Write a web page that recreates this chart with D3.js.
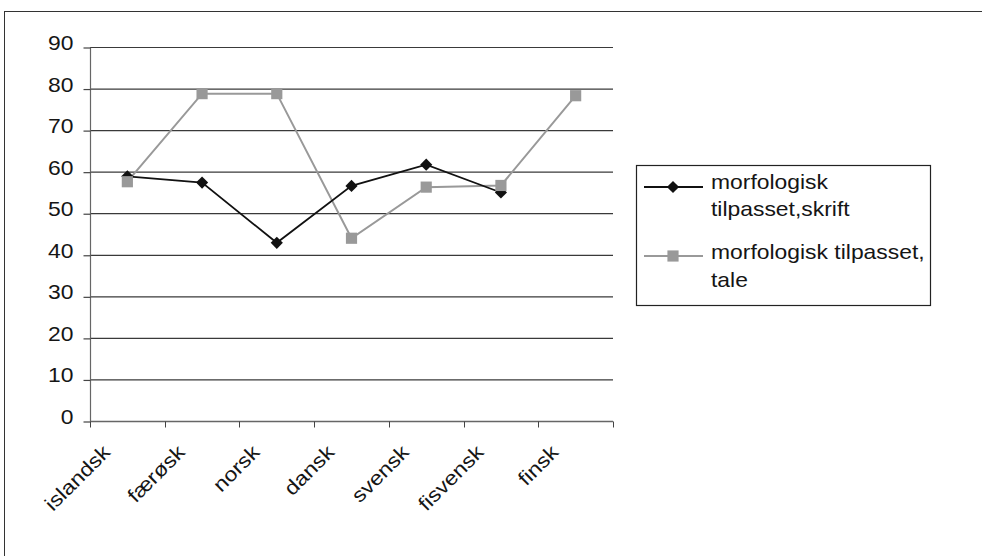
<!DOCTYPE html>
<html>
<head>
<meta charset="utf-8">
<script src="https://cdn.jsdelivr.net/npm/d3@7"></script>
<style>
  html, body { margin: 0; padding: 0; background: #fff; }
  svg { display: block; font-family: "Liberation Sans", Arial, sans-serif; }
</style>
</head>
<body>
<svg id="chart" width="982" height="556"></svg>
<script>
// Categories and the two series (values in %)
const categories = ["islandsk", "færøsk", "norsk", "dansk", "svensk", "fisvensk", "finsk"];
const skrift = [59, 57.5, 43, 56.7, 61.8, 55.1, null];
const tale = [57.7, 78.9, 78.9, 44.1, 56.4, 56.8, 78.4];
const yTicks = [0, 10, 20, 30, 40, 50, 60, 70, 80, 90];
const seriesNames = [
  ["morfologisk", "tilpasset,skrift"],
  ["morfologisk tilpasset,", "tale"]
];

(function () {
const svg = d3.select("#chart");
const FS = 20;        // font size
const SX = 1.145;     // horizontal stretch of all chart text
const ink = "#151515";

// outer chart frame (runs off the right and bottom edges)
svg.append("rect")
  .attr("x", 4.5).attr("y", 11.5)
  .attr("width", 1000).attr("height", 600)
  .attr("fill", "none").attr("stroke", "#333").attr("stroke-width", 1);

const plotL = 90, plotR = 613, plotT = 47.5, plotB = 421.5;

const x = d3.scaleBand().domain(categories).range([plotL, plotR]);
const y = d3.scaleLinear().domain([0, 90]).range([plotB, plotT]);
const cx = d => x(d) + x.bandwidth() / 2;

// horizontal gridlines
svg.append("g")
  .selectAll("line")
  .data(yTicks.filter(d => d > 0))
  .join("line")
  .attr("x1", plotL).attr("x2", plotR)
  .attr("y1", d => y(d)).attr("y2", d => y(d))
  .attr("stroke", "#3a3a3a").attr("stroke-width", 1.2);

// y axis
const yAxis = svg.append("g")
  .attr("transform", `translate(${plotL + 0.5},0)`)
  .call(d3.axisLeft(y).tickValues(yTicks).tickSize(7).tickFormat(d3.format("d")));
yAxis.select(".domain").attr("stroke", "#666").attr("stroke-width", 1.2).attr("d", `M0,${plotT}V${plotB}`);
yAxis.selectAll(".tick line").attr("stroke", "#444").attr("stroke-width", 1.2);
yAxis.selectAll(".tick text").remove();
yAxis.selectAll(".tick").append("text")
  .attr("transform", `translate(-17,-5) scale(${SX},1)`)
  .attr("text-anchor", "end")
  .attr("dy", "0.35em")
  .attr("font-size", FS)
  .attr("fill", ink)
  .text(d => d);

// x axis with ticks on category boundaries
const xAxisG = svg.append("g").attr("transform", `translate(0,${plotB})`);
xAxisG.append("line")
  .attr("x1", plotL).attr("x2", plotR)
  .attr("stroke", "#666").attr("stroke-width", 1.4);
const boundaries = categories.map(c => x(c)).concat([plotR]);
xAxisG.selectAll(".bt")
  .data(boundaries)
  .join("line")
  .attr("class", "bt")
  .attr("x1", d => Math.round(d) + 0.5).attr("x2", d => Math.round(d) + 0.5)
  .attr("y1", 0).attr("y2", 6)
  .attr("stroke", "#444");
xAxisG.selectAll("text")
  .data(categories)
  .join("text")
  .attr("transform", d => `translate(${cx(d) - 16},${32}) rotate(-45) scale(${SX},1)`)
  .attr("text-anchor", "end")
  .attr("font-size", FS)
  .attr("fill", ink)
  .text(d => d);

// gray series line
const taleData = categories.map((c, i) => ({ c, v: tale[i] })).filter(d => d.v != null);
svg.append("path")
  .datum(taleData)
  .attr("fill", "none").attr("stroke", "#999").attr("stroke-width", 2)
  .attr("d", d3.line().x(d => cx(d.c)).y(d => y(d.v)));

// black series line
const skriftData = categories.map((c, i) => ({ c, v: skrift[i] })).filter(d => d.v != null);
svg.append("path")
  .datum(skriftData)
  .attr("fill", "none").attr("stroke", "#111").attr("stroke-width", 1.8)
  .attr("d", d3.line().x(d => cx(d.c)).y(d => y(d.v)));

const diamond = d3.symbol().type(d3.symbolSquare).size(74);
const square = d3.symbol().type(d3.symbolSquare).size(125);

svg.append("g").selectAll("path")
  .data(skriftData)
  .join("path")
  .attr("transform", d => `translate(${cx(d.c)},${y(d.v)}) rotate(45)`)
  .attr("d", diamond)
  .attr("fill", "#111");

svg.append("g").selectAll("path")
  .data(taleData)
  .join("path")
  .attr("transform", d => `translate(${cx(d.c)},${y(d.v)})`)
  .attr("d", square)
  .attr("fill", "#999");

// legend
const lg = svg.append("g");
lg.append("rect")
  .attr("x", 636.5).attr("y", 165.5).attr("width", 294).attr("height", 140)
  .attr("fill", "#fff").attr("stroke", "#222").attr("stroke-width", 1.2);

const legendRows = [
  { y: 187, color: "#111", sw: 1.8, lines: seriesNames[0], base: [189, 216] },
  { y: 256, color: "#999", sw: 2, lines: seriesNames[1], base: [259, 287] }
];
legendRows.forEach((r, i) => {
  lg.append("line")
    .attr("x1", 644).attr("x2", 703).attr("y1", r.y).attr("y2", r.y)
    .attr("stroke", r.color).attr("stroke-width", r.sw);
  lg.append("path")
    .attr("transform", i === 0 ? `translate(673,${r.y}) rotate(45)` : `translate(673,${r.y})`)
    .attr("d", i === 0 ? diamond : square)
    .attr("fill", r.color);
  r.lines.forEach((t, j) => {
    lg.append("text")
      .attr("transform", `translate(711,${r.base[j]}) scale(${SX},1)`)
      .attr("font-size", FS).attr("fill", ink)
      .text(t);
  });
});
})();
</script>
</body>
</html>
